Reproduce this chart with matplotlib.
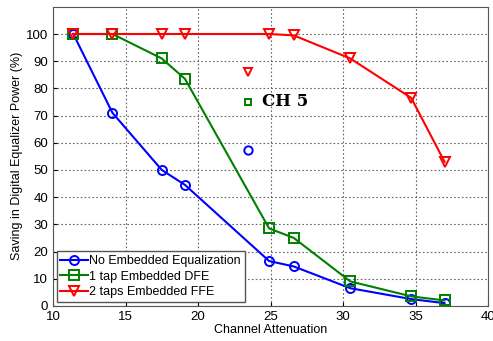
import matplotlib
matplotlib.use("Agg")
import matplotlib.pyplot as plt

plt.rcParams["font.family"] = ["Liberation Sans", "DejaVu Sans"]

# channel attenuation points
atten = [11.4, 14.1, 17.5, 19.1, 24.9, 26.6, 30.5, 34.7, 37.0]
no_eq = [100, 71, 50, 44.5, 16.5, 14.5, 6.5, 2.5, 1]
dfe_1tap = [100, 100, 91, 83.5, 28.5, 25, 9, 3.5, 2]
ffe_2tap = [100, 100, 100, 100, 100, 99.5, 91, 76.5, 53]

# CH 5 isolated points
ch5_x = 23.45
ch5_no_eq = 57.5
ch5_dfe = 75
ch5_ffe = 86

fig = plt.figure(figsize=(4.93, 3.41), dpi=100)
ax = fig.add_axes([0.1075, 0.103, 0.8825, 0.877])

mk = dict(markersize=6.5, markerfacecolor="none", markeredgewidth=1.4, linewidth=1.5)
ax.plot(atten, no_eq, "-o", color="blue", label="No Embedded Equalization", **mk)
ax.plot(atten, dfe_1tap, "-s", color="green", label="1 tap Embedded DFE", **mk)
ax.plot(atten, ffe_2tap, "-v", color="red", label="2 taps Embedded FFE", **mk)

ax.plot([ch5_x], [ch5_no_eq], "o", color="blue", markersize=6, markerfacecolor="none", markeredgewidth=1.4)
ax.plot([ch5_x], [ch5_dfe], "s", color="green", markersize=5, markerfacecolor="none", markeredgewidth=1.4)
ax.plot([ch5_x], [ch5_ffe], "v", color="red", markersize=6, markerfacecolor="none", markeredgewidth=1.4)
ax.text(24.4, 75, "CH 5", family="DejaVu Serif", fontweight="bold", fontsize=12,
        va="center", ha="left")

ax.set_xlim(10, 40)
ax.set_ylim(0, 110)
ax.set_xticks([10, 15, 20, 25, 30, 35, 40])
ax.set_yticks(range(0, 101, 10))
ax.tick_params(labelsize=9.5, direction="in", length=3)
ax.grid(True, linestyle=(0, (1.5, 2)), color="#666666", linewidth=0.8)
for s in ax.spines.values():
    s.set_color("#555555")

ax.set_xlabel("Channel Attenuation", fontsize=9, labelpad=1)
ax.set_ylabel("Saving in Digital Equalizer Power (%)", fontsize=9, labelpad=2)

leg = ax.legend(loc="lower left", fontsize=9, fancybox=False, framealpha=1,
                edgecolor="#555555", borderpad=0.3, labelspacing=0.3,
                handlelength=2.2, handletextpad=0.1, borderaxespad=0.3)

fig.savefig("out.png", dpi=100)
